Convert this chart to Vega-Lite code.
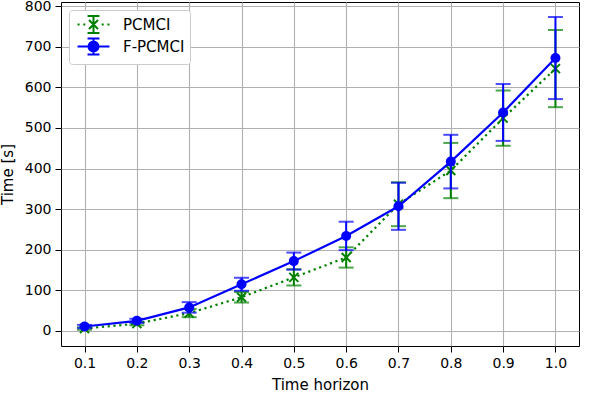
{
  "$schema": "https://vega.github.io/schema/vega-lite/v6.json",
  "width": 518,
  "height": 344,
  "autosize": {"type": "none"},
  "padding": {"left": 61, "top": 2, "right": 24, "bottom": 48},
  "config": {
    "font": "DejaVu Sans",
    "view": {"stroke": "black", "strokeWidth": 1},
    "axis": {
      "domain": false,
      "gridColor": "#b0b0b0",
      "gridWidth": 1.1,
      "tickColor": "black",
      "tickSize": 6,
      "tickWidth": 1,
      "labelFont": "DejaVu Sans",
      "labelFontSize": 14,
      "labelColor": "black",
      "labelPadding": 4,
      "titleFont": "DejaVu Sans",
      "titleFontSize": 15,
      "titleFontWeight": "normal",
      "titleColor": "black"
    }
  },
  "data": {
    "values": [
      {"h": 0.1, "method": "PCMCI", "t": 6, "err": 3},
      {"h": 0.2, "method": "PCMCI", "t": 18, "err": 4},
      {"h": 0.3, "method": "PCMCI", "t": 44, "err": 10},
      {"h": 0.4, "method": "PCMCI", "t": 83, "err": 13},
      {"h": 0.5, "method": "PCMCI", "t": 132, "err": 20},
      {"h": 0.6, "method": "PCMCI", "t": 181, "err": 25},
      {"h": 0.7, "method": "PCMCI", "t": 312, "err": 54},
      {"h": 0.8, "method": "PCMCI", "t": 395, "err": 68},
      {"h": 0.9, "method": "PCMCI", "t": 524, "err": 68},
      {"h": 1.0, "method": "PCMCI", "t": 646, "err": 95},
      {"h": 0.1, "method": "F-PCMCI", "t": 11, "err": 4},
      {"h": 0.2, "method": "F-PCMCI", "t": 25, "err": 5},
      {"h": 0.3, "method": "F-PCMCI", "t": 58, "err": 13},
      {"h": 0.4, "method": "F-PCMCI", "t": 115, "err": 16},
      {"h": 0.5, "method": "F-PCMCI", "t": 172, "err": 21},
      {"h": 0.6, "method": "F-PCMCI", "t": 234, "err": 35},
      {"h": 0.7, "method": "F-PCMCI", "t": 307, "err": 58},
      {"h": 0.8, "method": "F-PCMCI", "t": 417, "err": 66},
      {"h": 0.9, "method": "F-PCMCI", "t": 538, "err": 70},
      {"h": 1.0, "method": "F-PCMCI", "t": 672, "err": 101}
    ]
  },
  "encoding": {
    "x": {
      "field": "h", "type": "quantitative",
      "scale": {"domain": [0.055, 1.045], "nice": false, "zero": false},
      "axis": {"title": "Time horizon", "titlePadding": 7, "values": [0.1, 0.2, 0.3, 0.4, 0.5, 0.6, 0.7, 0.8, 0.9, 1.0], "format": ".1f", "grid": true}
    },
    "y": {
      "field": "t", "type": "quantitative",
      "scale": {"domain": [-37, 810], "nice": false, "zero": false},
      "axis": {"title": "Time [s]", "titlePadding": 9, "values": [0, 100, 200, 300, 400, 500, 600, 700, 800], "grid": true}
    }
  },
  "layer": [
    {
      "transform": [{"filter": "datum.method === 'PCMCI'"}],
      "mark": {"type": "line", "color": "#008000", "strokeWidth": 2.2, "strokeDash": [2.2, 3.6], "strokeCap": "butt"},
      "encoding": {}
    },
    {
      "transform": [{"filter": "datum.method === 'PCMCI'"}],
      "mark": {"type": "errorbar", "thickness": 2, "ticks": {"size": 15, "thickness": 2}},
      "encoding": {
        "yError": {"field": "err"},
        "color": {
          "field": "method", "type": "nominal",
          "scale": {"domain": ["PCMCI", "F-PCMCI"], "range": ["#008000", "#0000ff"]},
          "legend": {
            "title": null, "orient": "top-left", "offset": 8, "padding": 5,
            "fillColor": "white", "strokeColor": "#cccccc", "cornerRadius": 3,
            "labelFont": "DejaVu Sans", "labelFontSize": 15, "labelColor": "black",
            "symbolSize": 289, "symbolStrokeWidth": 2, "symbolOffset": 10, "labelOffset": 20, "rowPadding": -12.5,
            "encode": {"symbols": {"update": {
              "shape": {"signal": "datum.value === 'PCMCI' ? 'M-1.88,0L-1.64,0M-1.2,0L-0.96,0M0.96,0L1.2,0M1.64,0L1.88,0M0,-1L0,1M-0.7,-1L0.7,-1M-0.7,1L0.7,1M-0.53,-0.53L0.53,0.53M-0.53,0.53L0.53,-0.53' : 'M-1.88,0L1.88,0M0,-0.94L0,0.94M-0.7,-0.94L0.7,-0.94M-0.7,0.94L0.7,0.94M0.59,0C0.59,0.326 0.326,0.59 0,0.59C-0.326,0.59 -0.59,0.326 -0.59,0C-0.59,-0.326 -0.326,-0.59 0,-0.59C0.326,-0.59 0.59,-0.326 0.59,0Z'"},
              "fill": {"signal": "datum.value === 'PCMCI' ? 'transparent' : '#0000ff'"},
              "stroke": {"signal": "datum.value === 'PCMCI' ? '#008000' : '#0000ff'"},
              "strokeWidth": {"value": 2},
              "opacity": {"value": 1}
            }}}
          }
        }
      }
    },
    {
      "transform": [{"filter": "datum.method === 'PCMCI'"}],
      "mark": {"type": "point", "shape": "M-1,-1L1,1M-1,1L1,-1", "size": 81, "filled": false, "strokeWidth": 2, "color": "#008000", "opacity": 1},
      "encoding": {}
    },
    {
      "transform": [{"filter": "datum.method === 'F-PCMCI'"}],
      "mark": {"type": "line", "color": "#0000ff", "strokeWidth": 2.2},
      "encoding": {}
    },
    {
      "transform": [{"filter": "datum.method === 'F-PCMCI'"}],
      "mark": {"type": "errorbar", "thickness": 2, "ticks": {"size": 15, "thickness": 2}},
      "encoding": {
        "yError": {"field": "err"},
        "color": {
          "field": "method", "type": "nominal",
          "scale": {"domain": ["PCMCI", "F-PCMCI"], "range": ["#008000", "#0000ff"]}
        }
      }
    },
    {
      "transform": [{"filter": "datum.method === 'F-PCMCI'"}],
      "mark": {"type": "point", "shape": "circle", "size": 100, "filled": true, "color": "#0000ff", "opacity": 1},
      "encoding": {}
    }
  ]
}
